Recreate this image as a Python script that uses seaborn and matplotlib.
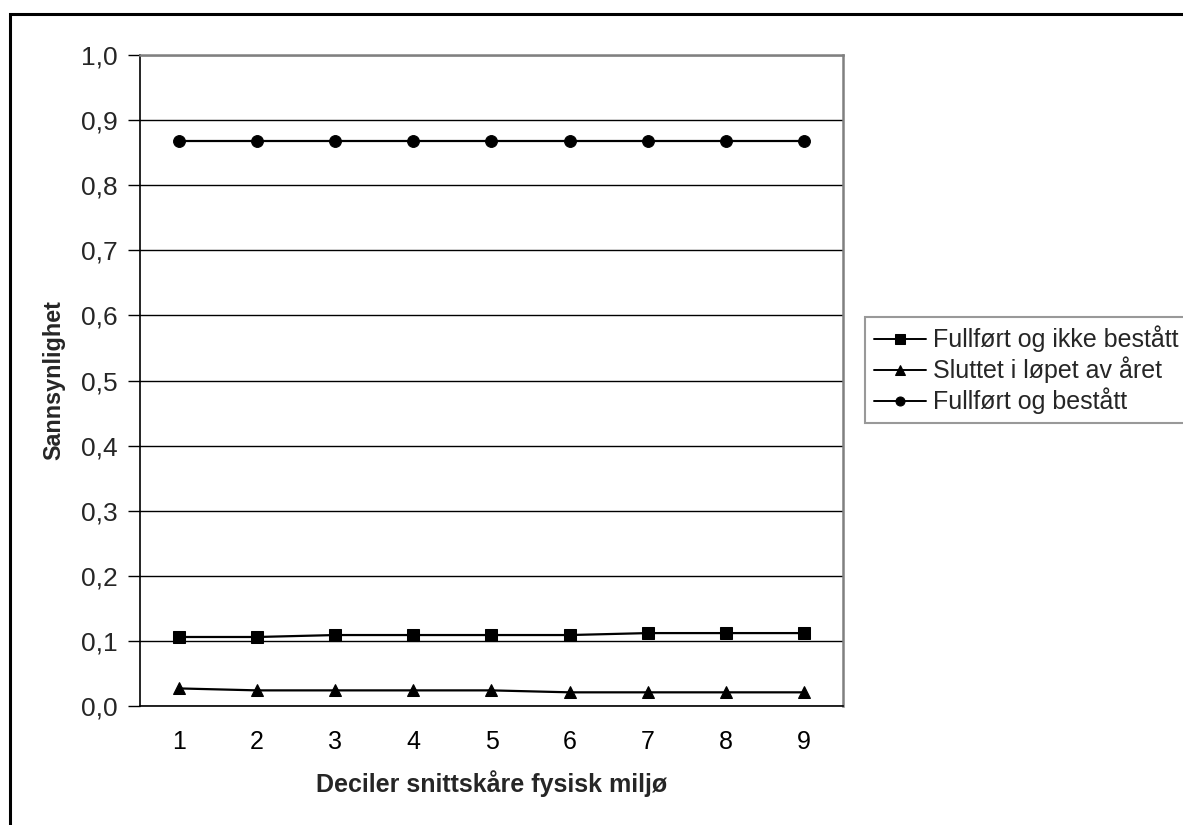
import matplotlib
matplotlib.use("Agg")
import matplotlib.pyplot as plt
from matplotlib.patches import Rectangle
from matplotlib.ticker import FixedLocator, FuncFormatter
import numpy as np
import pandas as pd
import seaborn as sns

# Deciles of average score for the physical environment
deciles = [1, 2, 3, 4, 5, 6, 7, 8, 9]

# Predicted probabilities per outcome
fullfort_ikke_bestatt = [0.106, 0.106, 0.109, 0.109, 0.109, 0.109, 0.112, 0.112, 0.112]
sluttet = [0.027, 0.024, 0.024, 0.024, 0.024, 0.021, 0.021, 0.021, 0.021]
fullfort_bestatt = [0.868, 0.868, 0.868, 0.868, 0.868, 0.868, 0.868, 0.868, 0.868]

series_names = ["Fullført og ikke bestått", "Sluttet i løpet av året", "Fullført og bestått"]
series_values = [fullfort_ikke_bestatt, sluttet, fullfort_bestatt]

y_ticks = [0.0, 0.1, 0.2, 0.3, 0.4, 0.5, 0.6, 0.7, 0.8, 0.9, 1.0]

df = pd.DataFrame({
    "decil": deciles * len(series_names),
    "p": [v for vals in series_values for v in vals],
    "serie": [n for n in series_names for _ in deciles],
})

sns.set_style("white")
plt.rcParams["font.family"] = ["Liberation Sans", "DejaVu Sans"]

W, H = 1183, 825
fig = plt.figure(figsize=(W / 100, H / 100), dpi=100)
ax = fig.add_axes([140 / W, 1 - 706 / H, (843 - 140) / W, (706 - 55) / H])

markers = {series_names[0]: "s", series_names[1]: "^", series_names[2]: "o"}
palette = {n: "black" for n in series_names}
sns.lineplot(data=df, x="decil", y="p", hue="serie", style="serie",
             hue_order=series_names, style_order=series_names,
             markers=markers, dashes=False, palette=palette,
             markersize=8.5, markeredgecolor="black", linewidth=1.6,
             ax=ax, zorder=3)

ax.set_xlim(0.5, 9.5)
ax.set_ylim(0, 1.0)

# Horizontal gridlines
ax.yaxis.set_major_locator(FixedLocator(y_ticks))
ax.yaxis.set_major_formatter(FuncFormatter(lambda v, _: f"{v:.1f}".replace(".", ",")))
ax.grid(axis="y", color="black", linewidth=1.0)
ax.grid(axis="x", visible=False)
ax.set_axisbelow(True)

# Category labels at centres, tick marks at category boundaries
ax.xaxis.set_major_locator(FixedLocator(deciles))
ax.set_xticks(np.arange(0.5, 10.0, 1.0), minor=True)
ax.tick_params(axis="x", which="major", length=0, pad=17, labelsize=18, colors="black")
ax.tick_params(axis="x", which="minor", direction="out", length=7, width=1, color="black")
ax.tick_params(axis="y", which="major", direction="out", length=8.5, width=1,
               color="black", labelsize=19, pad=7.5)
ax.tick_params(left=True, bottom=True)

for s in ("left", "bottom"):
    ax.spines[s].set_color("black")
    ax.spines[s].set_linewidth(1.2)
for s in ("top", "right"):
    ax.spines[s].set_color("#808080")
    ax.spines[s].set_linewidth(1.8)

ax.set_xlabel("Deciler snittskåre fysisk miljø", fontsize=18, fontweight="bold", labelpad=12)
ax.set_ylabel("Sannsynlighet", fontsize=16.8, fontweight="bold", labelpad=11)

handles, labels = ax.get_legend_handles_labels()
leg = ax.legend(handles, labels, loc="upper left",
                bbox_to_anchor=(865 / W, 1 - 317 / H), bbox_transform=fig.transFigure,
                borderaxespad=0, fontsize=18, frameon=True, fancybox=False,
                handlelength=2.1, handletextpad=0.28, labelspacing=0.17, borderpad=0.35)
leg.get_frame().set_edgecolor("#808080")
leg.get_frame().set_linewidth(1.5)
for h in leg.legend_handles:
    h.set_markersize(6.5)
    h.set_linewidth(1.4)

# Chart area frame
fig.add_artist(Rectangle((10 / W, -0.1), 1.2, 1.1 - 14 / H, transform=fig.transFigure,
                         fill=False, edgecolor="black", linewidth=2.2, clip_on=False))

fig.savefig("out.png", dpi=100, facecolor="white")
